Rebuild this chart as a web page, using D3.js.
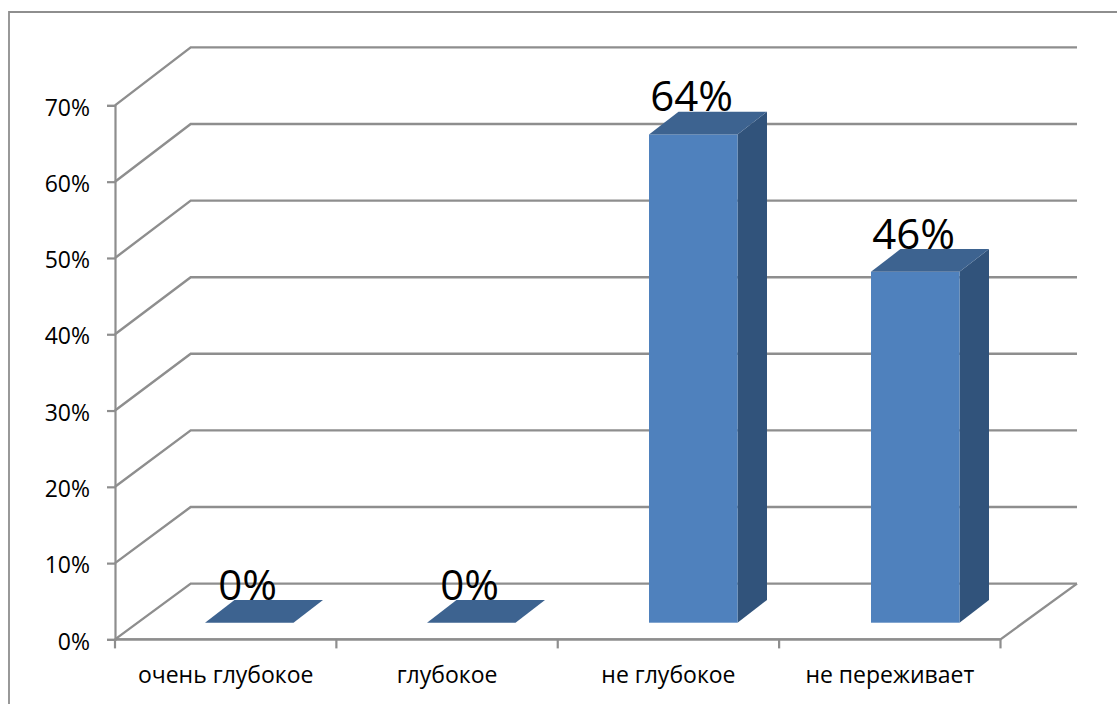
<!DOCTYPE html>
<html>
<head>
<meta charset="utf-8">
<script src="https://cdn.jsdelivr.net/npm/d3@7"></script>
<style>
  html, body { margin: 0; padding: 0; background: #fff; overflow: hidden; }
  text { font-family: "Open Sans", "Noto Sans", sans-serif; fill: #000; }
</style>
</head>
<body>
<div id="chart"></div>
<script>
const categories = ["очень глубокое", "глубокое", "не глубокое", "не переживает"];
const values = [0, 0, 64, 46];
const valueLabels = ["0%", "0%", "64%", "46%"];
const tickValues = [0, 10, 20, 30, 40, 50, 60, 70];

const width = 1117;
const height = 704;

// front plane of the box and the shift to its back plane
const plot = { left: 115, right: 1000.5, top: 105.4, bottom: 639.4 };
const back = { left: 190.7, right: 1077, top: 47.4, bottom: 583.6 };
const gridColor = "#8e8e8e";

const svg = d3.select("#chart").append("svg")
  .attr("width", width)
  .attr("height", height);

const x = d3.scaleBand()
  .domain(categories)
  .range([plot.left, plot.right]);

const y = d3.scaleLinear()
  .domain([0, 70])
  .range([plot.bottom, plot.top]);

const yBack = d3.scaleLinear()
  .domain([0, 70])
  .range([back.bottom, back.top]);

// outer frame, runs off the right and bottom
svg.append("path")
  .attr("d", `M9,${height}V12H${width}`)
  .attr("fill", "none")
  .attr("stroke", gridColor)
  .attr("stroke-width", 1.8);

// gridlines: side wall then back wall
const grid = svg.append("g")
  .attr("fill", "none")
  .attr("stroke", gridColor)
  .attr("stroke-width", 2.4);

grid.selectAll("path")
  .data(tickValues)
  .join("path")
  .attr("d", d => {
    const p = d3.path();
    p.moveTo(plot.left, y(d));
    p.lineTo(back.left, yBack(d));
    p.lineTo(back.right, yBack(d));
    return p.toString();
  });

// floor edges
grid.append("path")
  .attr("d", `M${plot.left},${plot.bottom}H${plot.right}L${back.right},${back.bottom}`);

const yAxis = d3.axisLeft(y)
  .tickValues(tickValues)
  .tickFormat(d => d + "%")
  .tickSize(8)
  .tickPadding(17);

const yAxisGroup = svg.append("g")
  .attr("transform", `translate(${plot.left},0)`)
  .call(yAxis);

const xAxis = d3.axisBottom(x)
  .tickSize(0)
  .tickPadding(27);

const xAxisGroup = svg.append("g")
  .attr("transform", `translate(0,${plot.bottom})`)
  .call(xAxis);

// category separators on the x axis
xAxisGroup.selectAll("line.sep")
  .data(d3.range(categories.length + 1))
  .join("line")
  .attr("class", "sep")
  .attr("x1", i => plot.left + i * x.bandwidth())
  .attr("x2", i => plot.left + i * x.bandwidth())
  .attr("y1", 0)
  .attr("y2", 9)
  .attr("stroke", gridColor)
  .attr("stroke-width", 2.2);

[yAxisGroup, xAxisGroup].forEach(g => {
  g.selectAll(".domain, .tick line").attr("stroke", gridColor).attr("stroke-width", 2.2);
  g.selectAll("text").style("font-size", "23px").attr("font-family", null);
});
yAxisGroup.selectAll("text").attr("dy", "0.42em");
xAxisGroup.select(".domain").attr("d", `M${plot.left},0H${plot.right}`);

// 3d columns, spaced a little wider than the axis bands
const barX = d3.scaleBand()
  .domain(categories)
  .range([138.25, 1026.25]);

const barWidth = 88.5;
const floorY = 622.7;
const barDepth = { x: 29.5, y: -22.7 };
const barTop = d => floorY - (plot.bottom - y(d.value));
const barLeft = d => barX(d.name) + barX.bandwidth() / 2 - barWidth / 2;

const rows = categories.map((name, i) => ({ name, value: values[i], label: valueLabels[i] }));

const bars = svg.selectAll("g.bar")
  .data(rows)
  .join("g")
  .attr("class", "bar");

// side face
bars.append("path")
  .attr("fill", "#31537b")
  .attr("d", d => {
    const r = barLeft(d) + barWidth;
    return `M${r},${barTop(d)}l${barDepth.x},${barDepth.y}V${floorY + barDepth.y}L${r},${floorY}Z`;
  });

// front face
bars.append("rect")
  .attr("fill", "#4f81bd")
  .attr("x", barLeft)
  .attr("y", barTop)
  .attr("width", barWidth)
  .attr("height", d => floorY - barTop(d));

// top face
bars.append("path")
  .attr("fill", "#3d6390")
  .attr("d", d => `M${barLeft(d)},${barTop(d)}l${barDepth.x},${barDepth.y}h${barWidth}l${-barDepth.x},${-barDepth.y}Z`);

bars.append("text")
  .attr("x", d => barLeft(d) + 42.5)
  .attr("y", d => barTop(d) - 23)
  .attr("text-anchor", "middle")
  .style("font-size", "42px")
  .text(d => d.label);
</script>
</body>
</html>
